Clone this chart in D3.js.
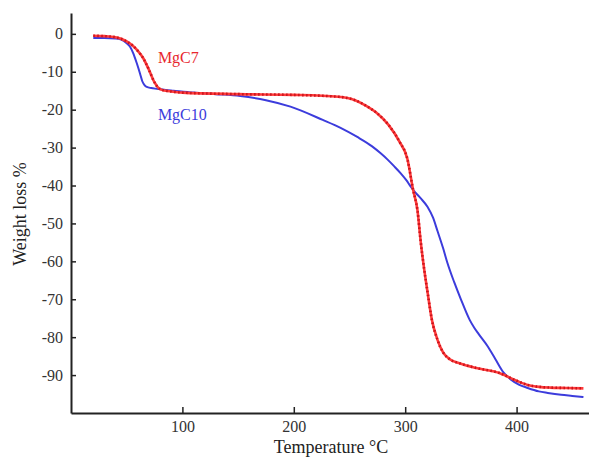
<!DOCTYPE html>
<html>
<head>
<meta charset="utf-8">
<script src="https://cdn.jsdelivr.net/npm/d3@7"></script>
<style>
  html, body { margin: 0; padding: 0; background: #fff; }
  svg { display: block; }
  text { font-family: "Liberation Serif", "Times New Roman", serif; }
</style>
</head>
<body>
<svg id="chart" width="589" height="459"></svg>
<script>
// ---- Data ----
const mgc7Temp = [20, 30, 40, 45, 50, 55, 60, 65, 70, 75, 80, 85, 90, 100, 150, 200, 240, 255, 265, 275, 285, 295, 302, 307, 311, 314, 317, 320, 324, 329, 334, 340, 350, 365, 385, 400, 410, 420, 430, 445, 460];
const mgc7Loss = [-0.5, -0.6, -0.9, -1.3, -2.0, -3.0, -4.5, -6.5, -9.5, -12.8, -14.6, -15.0, -15.2, -15.5, -15.9, -16.1, -16.6, -17.5, -19, -21, -24, -28.5, -33, -41, -46.5, -55, -62, -68, -75.5, -80.7, -84, -85.8, -87, -88.2, -89.5, -91.5, -92.6, -93.1, -93.3, -93.4, -93.5];

const mgc10Temp = [20, 30, 40, 45, 50, 53, 56, 59, 62, 64, 66, 68, 72, 77, 85, 92, 110, 130, 152, 175, 197, 226, 242, 257, 270, 278, 284, 290, 296, 301, 305, 309, 314, 320, 325, 329, 334, 338, 344, 350, 358, 362, 366, 374, 381, 388, 395, 402, 410, 420, 428, 440, 450, 460];
const mgc10Loss = [-1.1, -1.1, -1.2, -1.5, -2.5, -3.4, -5.2, -7.7, -10.5, -12.5, -13.5, -14.0, -14.3, -14.5, -14.8, -15.0, -15.5, -15.9, -16.4, -17.5, -19.2, -22.7, -24.8, -27.2, -29.6, -31.5, -33.1, -34.9, -36.8, -38.6, -40.3, -41.8, -43.4, -45.6, -48.5, -52, -56.5, -60.5, -65.5, -70, -75.5, -77.5, -79.2, -82.4, -85.8, -89.2, -91.2, -92.5, -93.4, -94.3, -94.7, -95.2, -95.5, -95.8];

const xTicks = [100, 200, 300, 400];
const yTicks = [0, -10, -20, -30, -40, -50, -60, -70, -80, -90];
const seriesNames = ["MgC7", "MgC10"];
const xTitle = "Temperature \u00B0C";
const yTitle = "Weight loss %";

// ---- Chart ----
const svg = d3.select("#chart");
const x = d3.scaleLinear().domain([0, 465]).range([71, 589]);
const y = d3.scaleLinear().domain([-100, 5.5]).range([413, 13]);

const axisColor = "#222";

// Y axis
const yAxis = svg.append("g")
  .attr("transform", `translate(${x(0)},0)`)
  .call(d3.axisLeft(y).tickValues(yTicks).tickSizeInner(-5).tickSizeOuter(0).tickPadding(8).tickFormat(d => String(d)));
yAxis.select(".domain").attr("stroke", axisColor).attr("stroke-width", 2);
yAxis.selectAll(".tick line").attr("stroke", axisColor).attr("stroke-width", 1.5);
yAxis.selectAll(".tick text").attr("font-size", 16).attr("fill", "#333")
  .style("font-family", '"Liberation Serif", serif');

// X axis
const xAxis = svg.append("g")
  .attr("transform", `translate(0,${y(-100)})`)
  .call(d3.axisBottom(x).tickValues(xTicks).tickSizeInner(-6).tickSizeOuter(0).tickPadding(8));
xAxis.select(".domain").attr("stroke", axisColor).attr("stroke-width", 2);
xAxis.selectAll(".tick line").attr("stroke", axisColor).attr("stroke-width", 1.5);
xAxis.selectAll(".tick text").attr("font-size", 16).attr("fill", "#333")
  .style("font-family", '"Liberation Serif", serif');

// Lines
const line = d3.line().x(d => x(d[0])).y(d => y(d[1])).curve(d3.curveMonotoneX);
const mgc7 = d3.zip(mgc7Temp, mgc7Loss);
const mgc10 = d3.zip(mgc10Temp, mgc10Loss);

svg.append("path").datum(mgc10).attr("d", line)
  .attr("fill", "none").attr("stroke", "#3c3cdc").attr("stroke-width", 2);

svg.append("path").datum(mgc7).attr("d", line)
  .attr("fill", "none").attr("stroke", "#ff3a3a").attr("stroke-width", 2.6);
svg.append("path").datum(mgc7).attr("d", line)
  .attr("fill", "none").attr("stroke", "#c8141c").attr("stroke-width", 2.6)
  .attr("stroke-dasharray", "1.5,2.5");

// Series labels
svg.append("text").attr("x", x(78)).attr("y", y(-7.6)).attr("font-size", 16)
  .attr("fill", "#e8282e").text(seriesNames[0]);
svg.append("text").attr("x", x(78)).attr("y", y(-22.6)).attr("font-size", 16)
  .attr("fill", "#3c3cdc").text(seriesNames[1]);

// Axis titles
svg.append("text").attr("x", 331).attr("y", 453).attr("text-anchor", "middle")
  .attr("font-size", 18).attr("fill", "#222").text(xTitle);
svg.append("text").attr("transform", "translate(26,214) rotate(-90)")
  .attr("text-anchor", "middle").attr("font-size", 18).attr("fill", "#222").text(yTitle);
</script>
</body>
</html>
